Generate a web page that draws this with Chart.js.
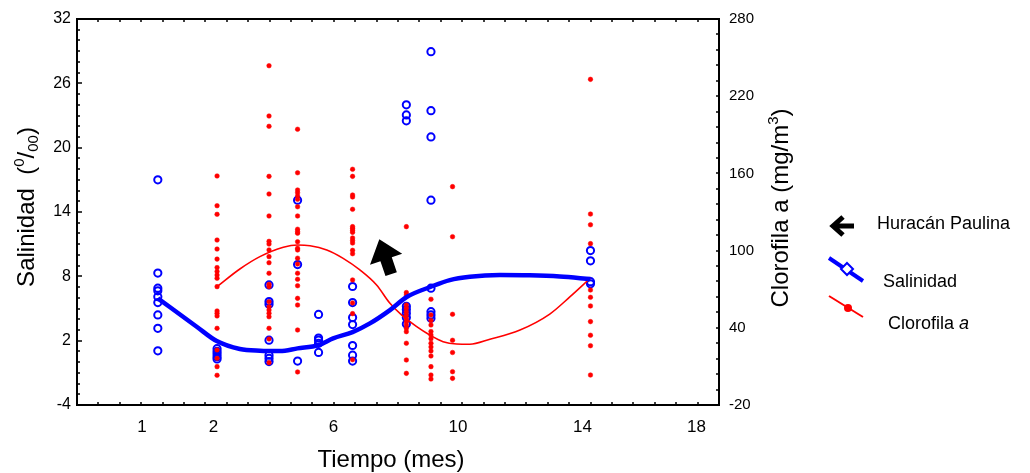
<!DOCTYPE html>
<html><head><meta charset="utf-8">
<script src="https://cdn.jsdelivr.net/npm/chart.js@4/dist/chart.umd.min.js"></script>
<style>html,body{margin:0;padding:0;background:#fff}#wrap{width:1030px;height:473px;position:relative}</style>
</head><body><div id="wrap"><canvas id="c"></canvas></div>
<script>
// ---- tick labels ----
const xTickPositions = [-0.35, 2, 5.95, 10.05, 14.15, 17.9];
const xTickLabels = ['1', '2', '6', '10', '14', '18'];
const salTicks = [-4, 2, 8, 14, 20, 26, 32];
const chlTicks = [-20, 40, 100, 160, 220, 280];

// ---- sampling times (x) ----
const sampleTimes = [0.17, 2.12, 3.83, 4.77, 5.46, 6.58, 8.35, 9.16, 9.87, 14.41];

// ---- Salinidad observations per sampling time ----
const salinidadObs = [
  [17.0, 8.3, 6.9, 6.65, 6.1, 5.55, 4.4, 3.15, 1.05],
  [1.25, 1.0, 0.75, 0.5, 0.3],
  [7.2, 5.65, 5.4, 2.05, 0.65, 0.35, 0.05],
  [15.1, 9.1, 0.1],
  [4.45, 2.25, 2.05, 1.75, 0.9],
  [7.05, 5.55, 4.15, 3.5, 1.55, 0.65, 0.1],
  [24.0, 23.05, 22.5, 5.2, 4.9, 4.55, 4.15, 3.55],
  [28.95, 23.45, 21.0, 15.1, 6.9, 4.7, 4.4, 4.1],
  [],
  [10.4, 9.45, 7.5, 7.3]
];

// ---- Clorofila a observations per sampling time ----
const clorofilaObs = [
  [],
  [158, 134.9, 128.2, 108.2, 101.2, 93.4, 86.8, 83.8, 81.0, 78.5, 72.0, 53.1, 51.3, 49.2, 39.6, 22.8, 16.3, 9.8, 3.1],
  [243.7, 204.6, 196.6, 157.7, 144, 126.9, 107.2, 105.1, 100.5, 95.3, 90.6, 82.4, 73.8, 71.9, 60.3, 56.4, 53.8, 51.3, 48.6, 39.6, 31.3, 12.9],
  [194.3, 160.5, 147.1, 145, 142.4, 139.9, 134.1, 126.9, 116.6, 114.7, 113.5, 106.9, 101.8, 100.5, 94.1, 89.6, 82.4, 77.7, 72.7, 62.9, 57.7, 38.3, 5.7],
  [],
  [163.2, 157.7, 143.2, 141.7, 132.1, 118.6, 117.3, 115.8, 114.2, 109.8, 107.8, 105.9, 100.2, 97.6, 77.2, 59.3, 51.0, 15.2],
  [118.6, 67.4, 65.5, 57.7, 55.2, 52.5, 50, 47.4, 44.7, 42.2, 39.6, 37, 28, 15, 4.6],
  [62.2, 50, 45.7, 42.2, 37.1, 34.4, 31.5, 28, 25.1, 22, 18.1, 9.8, 3.3, 0.2],
  [149.7, 110.8, 50.5, 30.3, 20.8, 5.9, 0.7],
  [233.1, 128.4, 120.1, 105.4, 69.4, 63.7, 57, 44.8, 34.2, 26.1, 3.3]
];

// ---- fitted curves ----
const salCurveX = [0.17, 1.45, 2.11, 2.87, 3.53, 4.19, 4.77, 5.46, 5.94, 6.58, 7.15, 7.81, 8.36, 9.16, 9.78, 10.44, 11.43, 12.41, 13.40, 14.41];
const salCurveY = [5.95, 3.30, 1.96, 1.22, 1.06, 1.03, 1.28, 1.59, 2.21, 2.80, 3.61, 4.85, 6.07, 7.03, 7.65, 7.96, 8.12, 8.09, 7.98, 7.75];
const chlCurveX = [2.12, 2.87, 3.53, 4.30, 4.77, 5.18, 5.73, 6.27, 6.82, 7.37, 7.81, 8.19, 8.69, 9.12, 9.56, 10.0, 10.44, 11.10, 12.09, 13.07, 13.73, 14.41];
const chlCurveY = [72.0, 85.7, 95.3, 102.6, 104.4, 103.8, 100.5, 94.0, 85.0, 73.3, 59.0, 50.0, 40.9, 34.4, 29.2, 27.4, 27.2, 31.1, 38.3, 50.7, 64.0, 78.7];

// ---- annotation: Huracán Paulina arrow (data coords: [time, salinidad]) ----
const arrowTip = [7.46, 11.45];
const arrowBase = [7.85, 8.21];

const BLUE = '#0000ff', RED = '#ff0000';
const FONT = '"Liberation Sans", Arial, sans-serif';

const salPoints = sampleTimes.flatMap((t, i) => salinidadObs[i].map(v => ({x: t, y: v})));
const chlPoints = sampleTimes.flatMap((t, i) => clorofilaObs[i].map(v => ({x: t, y: v})));
const salCurve = salCurveX.map((x, i) => ({x, y: salCurveY[i]}));
const chlCurve = chlCurveX.map((x, i) => ({x, y: chlCurveY[i]}));

function drawRich(ctx, parts, x, y) {
  let w = 0;
  parts.forEach(p => { ctx.font = p.font; p.w = ctx.measureText(p.text).width; w += p.w; });
  let cx = x - w / 2;
  ctx.textAlign = 'left';
  ctx.textBaseline = 'alphabetic';
  parts.forEach(p => { ctx.font = p.font; ctx.fillText(p.text, cx, y + (p.dy || 0)); cx += p.w; });
}

const decor = {
  id: 'decor',
  afterDraw(chart) {
    const {ctx, chartArea: a, scales} = chart;
    const sx = scales.x, sy = scales.y, sy2 = scales.y2;
    ctx.save();
    // minor ticks
    ctx.strokeStyle = '#000';
    ctx.lineWidth = 1.5;
    ctx.beginPath();
    for (let v = -4; v <= 32; v++) {
      const py = Math.round(sy.getPixelForValue(v));
      const len = ((v + 4) % 6 === 0) ? 5 : 3;
      ctx.moveTo(a.left, py); ctx.lineTo(a.left + len, py);
    }
    for (let v = -20; v <= 280; v += 12) {
      const py = Math.round(sy2.getPixelForValue(v));
      ctx.moveTo(a.right, py); ctx.lineTo(a.right - 3, py);
    }
    const n = 30;
    for (let k = 0; k <= n; k++) {
      const v = sx.min + k * (sx.max - sx.min) / n;
      const px = Math.round(sx.getPixelForValue(v));
      ctx.moveTo(px, a.bottom); ctx.lineTo(px, a.bottom - 3);
      ctx.moveTo(px, a.top); ctx.lineTo(px, a.top + 3);
    }
    ctx.stroke();
    // frame
    ctx.lineWidth = 2;
    ctx.strokeRect(a.left, a.top, a.right - a.left, a.bottom - a.top);

    // arrow in plot
    const tx = sx.getPixelForValue(arrowTip[0]), ty = sy.getPixelForValue(arrowTip[1]);
    const bx = sx.getPixelForValue(arrowBase[0]), by = sy.getPixelForValue(arrowBase[1]);
    const L = Math.hypot(tx - bx, ty - by);
    const ux = (tx - bx) / L, uy = (ty - by) / L; // towards tip
    const nx = -uy, ny = ux;
    const headLen = 21, headHalf = 17, shaftHalf = 6;
    const hx = tx - ux * headLen, hy = ty - uy * headLen;
    ctx.fillStyle = '#000';
    ctx.beginPath();
    ctx.moveTo(tx, ty);
    ctx.lineTo(hx + nx * headHalf, hy + ny * headHalf);
    ctx.lineTo(hx + nx * shaftHalf, hy + ny * shaftHalf);
    ctx.lineTo(bx + nx * shaftHalf, by + ny * shaftHalf);
    ctx.lineTo(bx - nx * shaftHalf, by - ny * shaftHalf);
    ctx.lineTo(hx - nx * shaftHalf, hy - ny * shaftHalf);
    ctx.lineTo(hx - nx * headHalf, hy - ny * headHalf);
    ctx.closePath();
    ctx.fill();

    // axis titles
    ctx.fillStyle = '#000';
    const big = '24px ' + FONT, small = '15px ' + FONT;
    drawRich(ctx, [{text: 'Tiempo (mes)', font: big}], 391, 467);
    ctx.save();
    ctx.translate(34, 207); ctx.rotate(-Math.PI / 2);
    drawRich(ctx, [
      {text: 'Salinidad  (', font: big},
      {text: '0', font: small, dy: -10},
      {text: '/', font: big},
      {text: '00', font: small, dy: 4},
      {text: ')', font: big}
    ], 0, 0);
    ctx.restore();
    ctx.save();
    ctx.translate(788, 208); ctx.rotate(-Math.PI / 2);
    drawRich(ctx, [
      {text: 'Clorofila a (mg/m', font: big},
      {text: '3', font: small, dy: -10},
      {text: ')', font: big}
    ], 0, 0);
    ctx.restore();

    // legend
    ctx.lineCap = 'butt';
    ctx.lineJoin = 'miter';
    ctx.strokeStyle = '#000'; ctx.lineWidth = 5;
    ctx.beginPath();
    ctx.moveTo(843, 217); ctx.lineTo(833, 226); ctx.lineTo(843, 235);
    ctx.moveTo(833, 226); ctx.lineTo(854, 226);
    ctx.stroke();
    ctx.strokeStyle = BLUE; ctx.lineWidth = 4;
    ctx.beginPath(); ctx.moveTo(829, 258); ctx.lineTo(863, 281); ctx.stroke();
    ctx.fillStyle = '#fff'; ctx.lineWidth = 2;
    ctx.beginPath();
    ctx.moveTo(847, 263); ctx.lineTo(853, 269); ctx.lineTo(847, 275); ctx.lineTo(841, 269); ctx.closePath();
    ctx.fill(); ctx.stroke();
    ctx.strokeStyle = RED; ctx.lineWidth = 2;
    ctx.beginPath(); ctx.moveTo(829, 296); ctx.lineTo(863, 317); ctx.stroke();
    ctx.fillStyle = RED;
    ctx.beginPath(); ctx.arc(848, 308, 4, 0, Math.PI * 2); ctx.fill();

    ctx.fillStyle = '#000';
    ctx.textAlign = 'left'; ctx.textBaseline = 'middle';
    ctx.font = '18px ' + FONT;
    ctx.fillText('Huracán Paulina', 877, 224);
    ctx.fillText('Salinidad', 883, 282);
    ctx.fillText('Clorofila ', 888, 324);
    const w = ctx.measureText('Clorofila ').width;
    ctx.font = 'italic 18px ' + FONT;
    ctx.fillText('a', 888 + w, 324);
    ctx.restore();
  }
};

new Chart(document.getElementById('c'), {
  type: 'scatter',
  data: {
    datasets: [
      {label: 'Salinidad (ajuste)', data: salCurve, yAxisID: 'y', showLine: true, pointRadius: 0,
        borderColor: BLUE, borderWidth: 4.5, cubicInterpolationMode: 'monotone', order: 0},
      {label: 'Clorofila a (ajuste)', data: chlCurve, yAxisID: 'y2', showLine: true, pointRadius: 0,
        borderColor: RED, borderWidth: 1.6, cubicInterpolationMode: 'monotone', order: 1},
      {label: 'Clorofila a', data: chlPoints, yAxisID: 'y2', pointRadius: 2.3, pointStyle: 'circle',
        backgroundColor: RED, borderColor: RED, borderWidth: 0.5, order: 2},
      {label: 'Salinidad', data: salPoints, yAxisID: 'y', pointRadius: 3.6, pointStyle: 'circle',
        backgroundColor: 'rgba(0,0,0,0)', borderColor: BLUE, borderWidth: 2, order: 3}
    ]
  },
  options: {
    responsive: true, maintainAspectRatio: false, animation: false,
    layout: {padding: {top: 19, left: 0, right: 0, bottom: 0}},
    plugins: {legend: {display: false}, tooltip: {enabled: false}},
    scales: {
      x: {
        type: 'linear', position: 'bottom', min: -2.49, max: 18.64,
        grid: {display: false, drawTicks: false}, border: {display: false},
        afterBuildTicks: s => { s.ticks = xTickPositions.map(v => ({value: v})); },
        ticks: {autoSkip: false, maxRotation: 0, padding: 12, color: '#000',
          font: {family: FONT, size: 17},
          callback: (v, i) => xTickLabels[i]},
        afterFit: s => { s.height = 68; }
      },
      y: {
        type: 'linear', position: 'left', min: -4, max: 32,
        grid: {display: false, drawTicks: false}, border: {display: false},
        afterBuildTicks: s => { s.ticks = salTicks.map(v => ({value: v})); },
        ticks: {padding: 6, color: '#000', font: {family: FONT, size: 16}},
        afterFit: s => { s.width = 77; }
      },
      y2: {
        type: 'linear', position: 'right', min: -20, max: 280,
        grid: {display: false, drawTicks: false}, border: {display: false},
        afterBuildTicks: s => { s.ticks = chlTicks.map(v => ({value: v})); },
        ticks: {padding: 10, color: '#000', font: {family: FONT, size: 15}},
        afterFit: s => { s.width = 311; }
      }
    }
  },
  plugins: [decor]
});
</script>
</body></html>
